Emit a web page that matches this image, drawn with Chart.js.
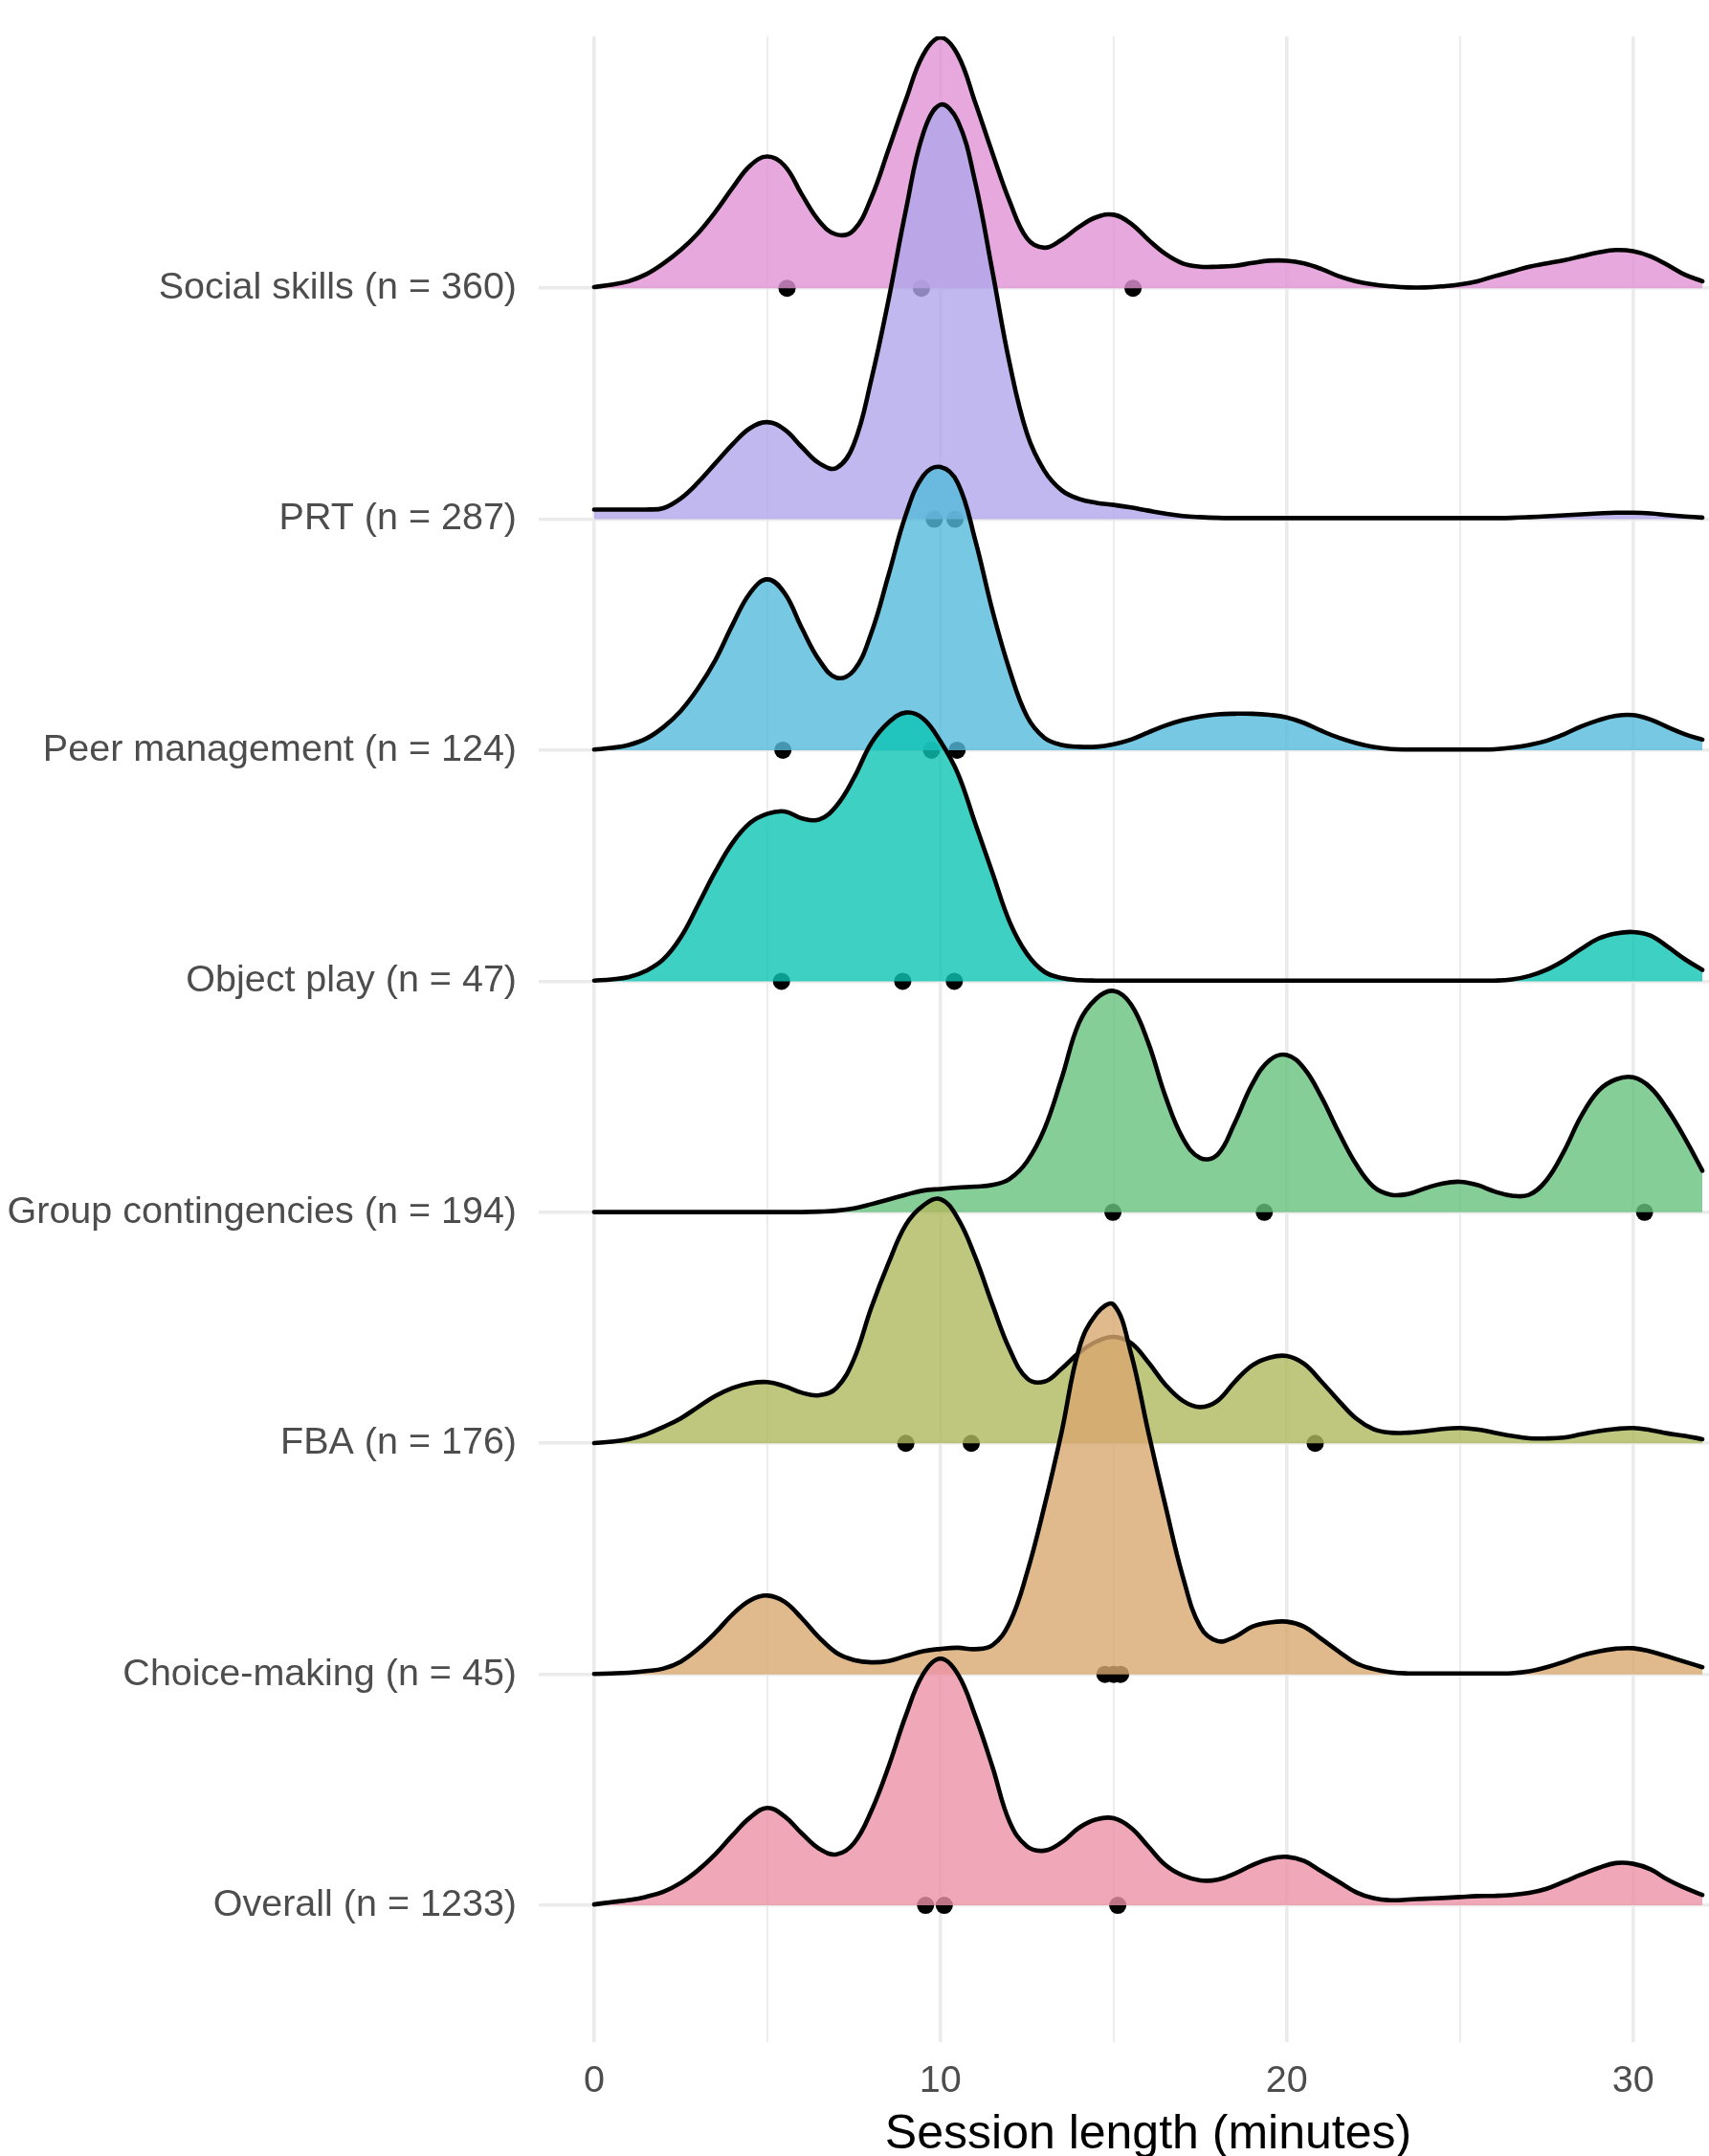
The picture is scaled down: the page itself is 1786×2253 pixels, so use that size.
<!DOCTYPE html>
<html>
<head>
<meta charset="utf-8">
<script src="https://cdn.jsdelivr.net/npm/chart.js@4.4.1/dist/chart.umd.min.js"></script>
<style>
html,body{margin:0;padding:0;background:#fff;overflow:hidden;width:1786px;height:2253px}
#wrap{position:absolute;left:0;top:0;width:1850px;height:2261px}
</style>
</head>
<body>
<div id="wrap"><canvas id="c" width="1850" height="2261" style="width:1850px;height:2261px"></canvas></div>
<script>
// ---- Data (top ridge first) ----
const categories = ["Social skills (n = 360)", "PRT (n = 287)", "Peer management (n = 124)", "Object play (n = 47)",
  "Group contingencies (n = 194)", "FBA (n = 176)", "Choice-making (n = 45)", "Overall (n = 1233)"];

const sessionMinutes = [0,0.5,1,1.5,2,2.5,3,3.5,4,4.5, 5,5.5,6,6.5,7,7.5,8,8.5,9,9.5,
  10,10.5,11,11.5,12,12.5,13,13.5,14,14.5, 15,15.5,16,16.5,17,17.5,18,18.5,19,19.5,
  20,20.5,21,21.5,22,22.5,23,23.5,24,24.5, 25,25.5,26,26.5,27,27.5,28,28.5,29,29.5,
  30,30.5,31,31.5,32];

// ridge heights (in row units) at each sessionMinutes value
const socialSkills = [0.005,0.015,0.03,0.06,0.107,0.165,0.238,0.33,0.435,0.53,
  0.57,0.53,0.405,0.29,0.232,0.252,0.39,0.6,0.815,1.01,
  1.085,1.01,0.805,0.585,0.375,0.215,0.175,0.21,0.265,0.307,
  0.318,0.28,0.21,0.148,0.107,0.093,0.093,0.097,0.109,0.119,
  0.119,0.107,0.083,0.052,0.03,0.016,0.008,0.003,0.003,0.008,
  0.016,0.03,0.052,0.072,0.093,0.107,0.121,0.138,0.155,0.165,
  0.16,0.138,0.1,0.058,0.03];
const prt = [0.042,0.042,0.042,0.042,0.048,0.09,0.159,0.242,0.325,0.394,
  0.42,0.388,0.312,0.242,0.222,0.325,0.602,0.949,1.337,1.669,
  1.794,1.724,1.461,1.073,0.672,0.37,0.21,0.125,0.088,0.071,
  0.062,0.051,0.037,0.024,0.014,0.009,0.006,0.005,0.005,0.005,
  0.005,0.005,0.005,0.005,0.005,0.005,0.005,0.005,0.005,0.005,
  0.005,0.005,0.005,0.006,0.009,0.013,0.017,0.021,0.025,0.028,
  0.028,0.025,0.018,0.012,0.007];
const peerManagement = [0.003,0.01,0.023,0.05,0.10,0.17,0.268,0.39,0.544,0.68,
  0.74,0.68,0.528,0.39,0.314,0.345,0.506,0.758,1.019,1.187,
  1.226,1.157,0.912,0.605,0.345,0.146,0.054,0.023,0.015,0.015,
  0.026,0.046,0.077,0.107,0.13,0.146,0.155,0.158,0.158,0.153,
  0.142,0.118,0.084,0.054,0.031,0.014,0.005,0.003,0.003,0.003,
  0.003,0.003,0.004,0.011,0.023,0.041,0.069,0.103,0.13,0.149,
  0.152,0.133,0.10,0.069,0.046];
const objectPlay = [0.003,0.008,0.018,0.045,0.095,0.19,0.33,0.475,0.6,0.685,
  0.725,0.735,0.705,0.70,0.76,0.88,1.03,1.12,1.163,1.137,
  1.038,0.9,0.685,0.47,0.256,0.118,0.041,0.014,0.005,0.003,
  0.003,0.003,0.003,0.003,0.003,0.003,0.003,0.003,0.003,0.003,
  0.003,0.003,0.003,0.003,0.003,0.003,0.003,0.003,0.003,0.003,
  0.003,0.003,0.003,0.008,0.023,0.05,0.09,0.14,0.185,0.207,
  0.213,0.198,0.149,0.095,0.049];
const groupContingencies = [0.001,0.001,0.001,0.001,0.001,0.001,0.001,0.001,0.001,0.001,
  0.001,0.001,0.001,0.003,0.007,0.017,0.035,0.055,0.076,0.094,
  0.101,0.107,0.111,0.118,0.145,0.22,0.36,0.58,0.82,0.925,
  0.958,0.90,0.734,0.50,0.32,0.235,0.249,0.388,0.554,0.658,
  0.681,0.623,0.499,0.346,0.208,0.111,0.076,0.079,0.104,0.125,
  0.132,0.118,0.09,0.072,0.076,0.139,0.263,0.416,0.526,0.575,
  0.584,0.54,0.443,0.319,0.18];
const fba = [0.001,0.007,0.018,0.039,0.071,0.108,0.157,0.205,0.24,0.26,
  0.265,0.247,0.219,0.208,0.24,0.364,0.586,0.78,0.946,1.029,
  1.057,0.974,0.808,0.6,0.406,0.281,0.267,0.323,0.392,0.44,
  0.461,0.434,0.351,0.253,0.184,0.157,0.184,0.267,0.337,0.371,
  0.378,0.344,0.267,0.184,0.108,0.062,0.046,0.046,0.053,0.062,
  0.066,0.06,0.046,0.032,0.022,0.021,0.025,0.039,0.053,0.062,
  0.066,0.057,0.043,0.032,0.018];
const choiceMaking = [0.002,0.004,0.007,0.014,0.025,0.055,0.11,0.18,0.26,0.32,
  0.341,0.314,0.242,0.159,0.093,0.062,0.052,0.058,0.079,0.10,
  0.11,0.115,0.109,0.126,0.224,0.44,0.727,1.05,1.409,1.56,
  1.60,1.39,1.05,0.727,0.422,0.206,0.144,0.162,0.206,0.224,
  0.228,0.206,0.153,0.099,0.048,0.023,0.009,0.004,0.004,0.004,
  0.004,0.004,0.004,0.005,0.013,0.031,0.054,0.081,0.099,0.111,
  0.113,0.099,0.077,0.054,0.031];
const overall = [0.004,0.014,0.023,0.037,0.059,0.097,0.152,0.221,0.304,0.38,
  0.422,0.385,0.311,0.245,0.221,0.269,0.407,0.6,0.822,1.001,
  1.068,1.001,0.822,0.6,0.36,0.255,0.237,0.273,0.336,0.372,
  0.377,0.336,0.255,0.174,0.129,0.108,0.111,0.138,0.174,0.201,
  0.21,0.192,0.147,0.102,0.057,0.031,0.022,0.025,0.029,0.032,
  0.036,0.04,0.041,0.045,0.054,0.072,0.102,0.133,0.162,0.183,
  0.18,0.156,0.111,0.075,0.045];

// quantile dots (minutes)
const socialSkillsQ = [5.57, 9.45, 15.56];
const prtQ = [9.82, 10.42];
const peerManagementQ = [5.45, 9.74, 10.48];
const objectPlayQ = [5.41, 8.91, 10.40];
const groupContingenciesQ = [14.98, 19.35, 30.33];
const fbaQ = [9.0, 10.89, 20.82];
const choiceMakingQ = [14.75, 15.0, 15.2];
const overallQ = [9.57, 10.11, 15.12];

const xTickValues = [0, 10, 20, 30];
const xTickLabels = ["0", "10", "20", "30"];
const xMinorBreaks = [5, 15, 25];
const xTitle = "Session length (minutes)";

// ---- styling ----
const ridgeFills = ["rgba(225,148,212,0.8)", "rgba(176,166,234,0.8)", "rgba(85,186,220,0.8)", "rgba(13,196,180,0.8)",
  "rgba(104,194,126,0.8)", "rgba(175,184,94,0.8)", "rgba(216,167,111,0.8)", "rgba(236,146,166,0.8)"];
const densities = [socialSkills, prt, peerManagement, objectPlay, groupContingencies, fba, choiceMaking, overall];
const quantiles = [socialSkillsQ, prtQ, peerManagementQ, objectPlayQ, groupContingenciesQ, fbaQ, choiceMakingQ, overallQ];

const FONT = '"Liberation Sans", Arial, Helvetica, sans-serif';
const N = categories.length;
const datasets = [];
let drawIdx = 0;
categories.forEach((cat, i) => {
  const base = N - i;
  datasets.push({
    type: 'scatter', label: cat + ' quantiles',
    data: quantiles[i].map(x => ({x: x, y: base})),
    pointRadius: 9, pointHoverRadius: 9, pointBackgroundColor: '#000', pointBorderWidth: 0,
    order: 100 - (drawIdx++)
  });
  datasets.push({
    type: 'line', label: cat,
    data: sessionMinutes.map((x, j) => ({x: x, y: base + densities[i][j]})),
    borderColor: '#000', borderWidth: 4.6, backgroundColor: ridgeFills[i],
    fill: {value: base}, pointRadius: 0, pointHoverRadius: 0,
    tension: 0.4, borderJoinStyle: 'round', borderCapStyle: 'round',
    order: 100 - (drawIdx++)
  });
});

const xGridValues = xTickValues.concat(xMinorBreaks).sort((a, b) => a - b);

new Chart(document.getElementById('c'), {
  type: 'scatter',
  data: {datasets: datasets},
  options: {
    responsive: false, animation: false, events: [],
    layout: {padding: {top: 38, right: 13, left: 0, bottom: 0}},
    plugins: {legend: {display: false}, tooltip: {enabled: false}, filler: {drawTime: 'beforeDatasetDraw'}},
    scales: {
      x: {
        type: 'linear', min: -1.6, max: 33.6,
        afterBuildTicks: s => { s.ticks = xGridValues.map(v => ({value: v})); },
        afterFit: s => { s.height = 127; s.paddingLeft = 0; s.paddingRight = 0; },
        grid: {color: '#EBEBEB', lineWidth: c => (c.tick && xTickValues.includes(c.tick.value)) ? 3.6 : 1.9, drawTicks: false},
        border: {display: false},
        ticks: {
          padding: 17, color: '#4D4D4D', font: {family: FONT, size: 39.5}, maxRotation: 0, autoSkip: false,
          callback: v => { const k = xTickValues.indexOf(v); return k >= 0 ? xTickLabels[k] : ''; }
        },
        title: {display: true, text: xTitle, color: '#000', font: {family: FONT, size: 50, lineHeight: 1.2}, padding: {top: 0, bottom: 0}}
      },
      y: {
        type: 'linear', min: 0.408, max: 9.09,
        afterBuildTicks: s => { s.ticks = categories.map((c, i) => ({value: N - i})); },
        afterFit: s => { s.width = 563; s.paddingTop = 0; s.paddingBottom = 0; },
        grid: {color: '#EBEBEB', lineWidth: 3.6, drawTicks: false},
        border: {display: false},
        ticks: {
          padding: 23, color: '#4D4D4D', font: {family: FONT, size: 39.5}, autoSkip: false,
          callback: v => categories[N - v] || ''
        }
      }
    }
  }
});
</script>
</body>
</html>
